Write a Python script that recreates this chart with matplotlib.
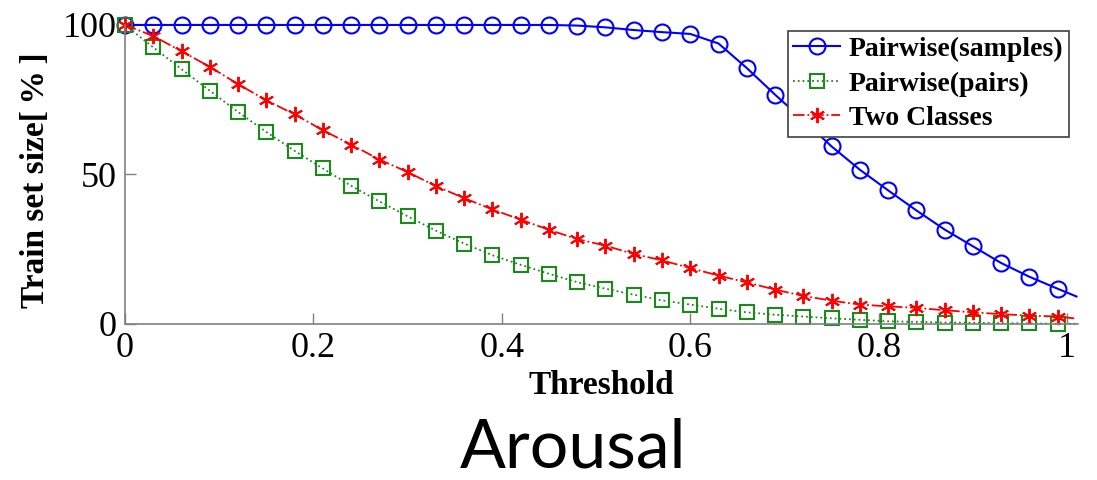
import matplotlib
matplotlib.use('Agg')
import matplotlib.pyplot as plt

# threshold values where markers sit, last entry is the line end (no marker)
thresholds = [0.00, 0.03, 0.06, 0.09, 0.12, 0.15, 0.18, 0.21, 0.24, 0.27,
              0.30, 0.33, 0.36, 0.39, 0.42, 0.45, 0.48, 0.51, 0.54, 0.57,
              0.60, 0.63, 0.66, 0.69, 0.72, 0.75, 0.78, 0.81, 0.84, 0.87,
              0.90, 0.93, 0.96, 0.99, 1.01]

pairwise_samples = [100, 100, 100, 100, 100, 100, 100, 100, 100, 100,
                    100, 100, 100, 100, 100, 100, 99.8, 99.2, 98.3, 97.6,
                    97.0, 93.8, 85.6, 76.7, 68.2, 59.4, 51.6, 44.7, 38.0, 31.6,
                    26.0, 20.4, 15.8, 11.8, 9.2]
pairwise_pairs = [100, 92.5, 85.2, 78.0, 70.9, 64.2, 57.9, 52.0, 46.2, 41.0,
                  36.0, 31.2, 26.9, 23.0, 19.8, 16.8, 14.0, 11.8, 9.8, 7.9,
                  6.5, 5.1, 3.9, 3.1, 2.5, 1.9, 1.4, 0.9, 0.7, 0.5,
                  0.4, 0.3, 0.2, 0.1, 0.1]
two_classes = [100, 96.3, 91.2, 86.0, 80.2, 74.8, 70.1, 64.8, 60.0, 55.0,
               50.8, 46.1, 42.1, 38.3, 34.9, 31.5, 28.4, 26.2, 23.4, 21.3,
               18.7, 16.2, 13.9, 11.5, 9.4, 7.8, 6.5, 5.9, 5.4, 4.6,
               3.9, 3.3, 2.8, 2.5, 1.8]

labels = ['Pairwise(samples)', 'Pairwise(pairs)', 'Two Classes']
serif = 'Liberation Serif'
asterisk = (6, 2, 0)
marks = slice(0, 34)

fig = plt.figure(figsize=(10.97, 4.8), dpi=100)
ax = fig.add_axes([0.114, 0.325, 0.869, 0.623])

ax.plot(thresholds, pairwise_samples, '-', color='#0000ff', lw=1.5,
        marker='o', ms=11.5, mfc='none', mec='#0000ff', mew=1.5,
        markevery=marks, label=labels[0], clip_on=False)
ax.plot(thresholds, pairwise_pairs, ':', color='#1a8a1a', lw=1.3,
        marker='s', ms=9.5, mfc='none', mec='#1a8a1a', mew=1.5,
        markevery=marks, label=labels[1], clip_on=False)
ax.plot(thresholds, two_classes, '-.', color='#ff0000', lw=1.3,
        marker=asterisk, ms=11, mec='#ff0000', mew=1.4,
        markevery=marks, label=labels[2], clip_on=False)

ax.set_xlim(0, 1.012)
ax.set_ylim(0, 100)
ax.set_xticks([0, 0.2, 0.4, 0.6, 0.8, 1])
ax.set_xticklabels(['0', '0.2', '0.4', '0.6', '0.8', '1'])
ax.set_yticks([0, 50, 100])

for side in ['top', 'right']:
    ax.spines[side].set_visible(False)
for side in ['left', 'bottom']:
    ax.spines[side].set_color('#808080')
    ax.spines[side].set_linewidth(1.2)

ax.tick_params(direction='in', length=8, width=1, color='#808080',
               labelsize=26, pad=6)
for t in ax.get_xticklabels() + ax.get_yticklabels():
    t.set_fontfamily(serif)

ax.set_xlabel('Threshold', fontsize=24, fontweight='bold', family=serif,
              labelpad=3)
ax.set_ylabel('Train set size[\u2009%\u2009]', fontsize=24, fontweight='bold',
              family=serif)
ax.yaxis.set_label_coords(-0.078, 0.48)

leg = ax.legend(loc='upper right', bbox_to_anchor=(0.99, 0.98),
                prop={'family': serif, 'weight': 'bold', 'size': 20},
                frameon=True, fancybox=False, framealpha=1,
                edgecolor='#404040', handlelength=1.7, handletextpad=0.3,
                labelspacing=0.33, borderpad=0.2, borderaxespad=0)
leg.get_frame().set_linewidth(1.2)

fig.text(0.522, 0.0, 'Arousal', family='Lato', fontsize=49,
         ha='center', va='bottom')

fig.savefig('out.png', dpi=100)
